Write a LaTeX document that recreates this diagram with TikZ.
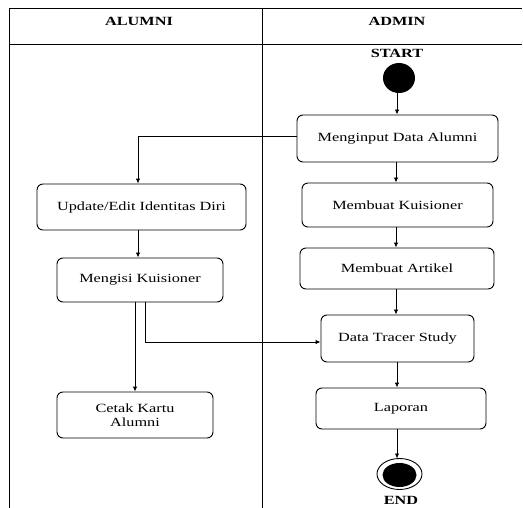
\documentclass[tikz,border=0pt]{standalone}
\usepackage{fontspec}
\setmainfont[FakeStretch=1.3]{Liberation Serif}
\usetikzlibrary{arrows.meta}
\begin{document}
\begin{tikzpicture}[x=1pt,y=-1pt,
  lane/.style={draw=black, line width=1pt},
  act/.style={draw=black, line width=0.9pt, rounded corners=6pt, align=center, font=\fontsize{12.5}{14}\selectfont, inner sep=0pt},
  hdr/.style={font=\fontsize{12.5}{14}\selectfont\bfseries},
  flow/.style={draw=black, line width=0.9pt, -{Latex[length=5pt,width=4.5pt]}}]
\useasboundingbox (0,0) rectangle (523,508);
% swimlanes
\coordinate (tl) at (9,9);
\coordinate (tr) at (522,9);
\coordinate (hl) at (9,45);
\coordinate (hr) at (522,45);
\coordinate (dt) at (262,9);
\coordinate (db) at (262,508);
\coordinate (lb) at (9,508);
\draw[lane] (lb) -- (tl) -- (tr);
\draw[lane] (hl) -- (hr);
\draw[lane] (dt) -- (db);
\node[hdr] (hA) at (139,21) {ALUMNI};
\node[hdr] (hB) at (397,21) {ADMIN};
% start
\node[hdr] (st) at (397,53) {START};
\fill (399,78) ellipse [x radius=16, y radius=15];
\coordinate (s1) at (397,93);
% activities
\node[act, minimum width=201pt, minimum height=47pt] (mi) at (397.5,138.5) {Menginput Data Alumni};
\node[act, minimum width=209pt, minimum height=46pt] (up) at (141.5,207) {Update/Edit Identitas Diri};
\node[act, minimum width=191pt, minimum height=44pt] (mk) at (397.5,205) {Membuat Kuisioner};
\node[act, minimum width=194pt, minimum height=41pt] (ma) at (397,268.5) {Membuat Artikel};
\node[act, minimum width=166pt, minimum height=44pt] (mq) at (140,280) {Mengisi Kuisioner};
\node[act, minimum width=153pt, minimum height=47pt] (dts) at (397.5,338.5) {Data Tracer Study};
\node[act, minimum width=156pt, minimum height=46pt] (ck) at (135,415) {Cetak Kartu\\Alumni};
\node[act, minimum width=170pt, minimum height=41pt] (lp) at (401,408.5) {Laporan};
% end
\draw[line width=0.9pt] (399.5,474) ellipse [x radius=22.5, y radius=15.5];
\fill (399.5,475) ellipse [x radius=17, y radius=12];
\coordinate (e1) at (397,458.5);
\node[hdr] (en) at (401,500) {END};
% flows
\draw[flow] (s1) -- (mi.north -| s1);
\draw[flow] (mi.west |- 0,136) -| (up.north -| 138,0);
\draw[flow] (mi.south -| 396,0) -- (mk.north -| 396,0);
\draw[flow] (mk.south -| 396,0) -- (ma.north -| 396,0);
\draw[flow] (up.south -| 138,0) -- (mq.north -| 138,0);
\draw[flow] (ma.south -| 396,0) -- (dts.north -| 396,0);
\draw[flow] (mq.south -| 135,0) -- (ck.north -| 135,0);
\draw[flow] (mq.south -| 145,0) |- (dts.west |- 0,342);
\draw[flow] (dts.south -| 397,0) -- (lp.north -| 397,0);
\draw[flow] (lp.south -| 397,0) -- (e1);
\end{tikzpicture}
\end{document}
